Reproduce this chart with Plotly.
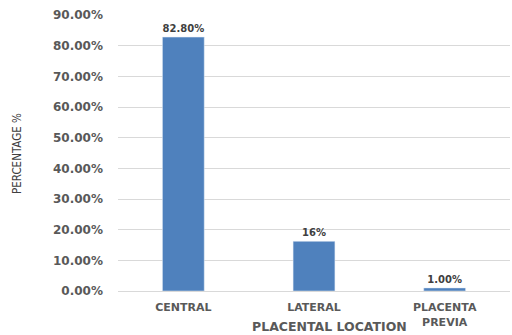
import plotly.graph_objects as go

categories = ["CENTRAL", "LATERAL", "PLACENTA<br>PREVIA"]
values = [0.828, 0.162, 0.010]
value_labels = ["82.80%", "16%", "1.00%"]
y_ticks = [0, 0.1, 0.2, 0.3, 0.4, 0.5, 0.6, 0.7, 0.8, 0.9]

L, R, T, B = 118, 2, 15, 44
W, H = 512, 335
pw = W - L - R
ph = H - T - B

fig = go.Figure(go.Bar(
    x=categories, y=values,
    marker=dict(color="#4f81bd"),
    text=value_labels, textposition="outside",
    textfont=dict(family="DejaVu Sans", size=10, color="#404040", weight="bold"),
    cliponaxis=False,
))

fig.update_layout(
    width=W, height=H,
    margin=dict(l=L, r=R, t=T, b=B),
    paper_bgcolor="white", plot_bgcolor="white",
    bargap=0.68,
    showlegend=False,
    xaxis=dict(
        tickfont=dict(family="DejaVu Sans", size=11, color="#595959", weight="bold"),
        showline=True, linecolor="#d9d9d9", linewidth=1,
        ticks="", showgrid=False, ticklabelstandoff=6,
    ),
    yaxis=dict(
        range=[0, 0.9], tickvals=y_ticks, tickformat=".2%",
        tickfont=dict(family="DejaVu Sans", size=12, color="#595959", weight="bold"),
        showgrid=True, gridcolor="#d9d9d9",
        zeroline=False, ticks="", showline=False, ticklabelstandoff=14,
    ),
    annotations=[
        dict(text="PLACENTAL LOCATION", xref="paper", yref="paper",
             x=(329 - L) / pw, y=(H - B - 326) / ph,
             showarrow=False,
             font=dict(family="DejaVu Sans", size=12.5, color="#595959", weight="bold"),
             xanchor="center", yanchor="middle"),
        dict(text="PERCENTAGE %", xref="paper", yref="paper",
             x=(17 - L) / pw, y=(H - B - 154) / ph,
             showarrow=False, textangle=-90,
             font=dict(family="DejaVu Sans Condensed, DejaVu Sans", size=11.5, color="#404040"),
             xanchor="center", yanchor="middle"),
    ],
)

fig.write_html("out.html")
